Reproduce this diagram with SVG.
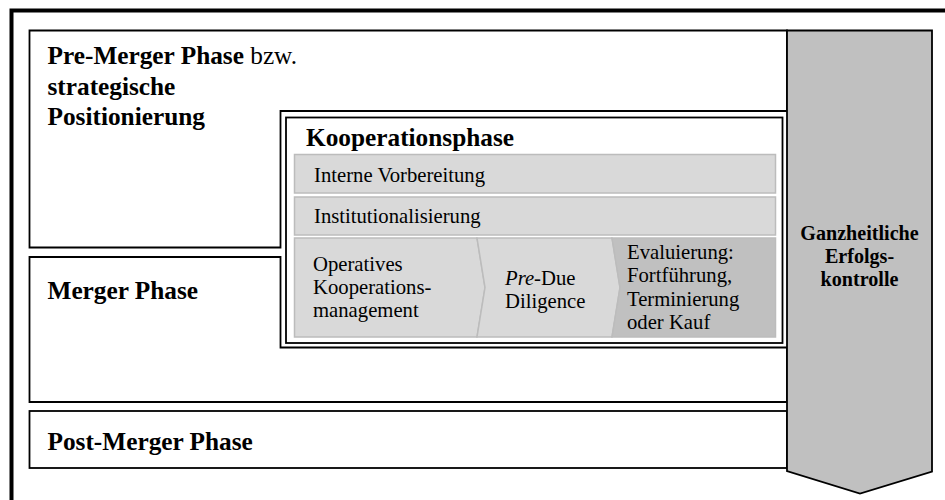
<svg xmlns="http://www.w3.org/2000/svg" width="945" height="500" viewBox="0 0 945 500">
<style>
.box{fill:#fff;stroke:#000;stroke-width:1.8;stroke-linejoin:miter}
.bar{fill:#d9d9d9;stroke:#bcbcbc;stroke-width:1.5}
.dark{fill:#c0c0c0;stroke:#bcbcbc;stroke-width:1.5}
.h{font-family:"Liberation Serif","Times New Roman",serif;font-weight:bold;font-size:25.3px;fill:#000}
.t{font-family:"Liberation Serif","Times New Roman",serif;font-size:20.7px;fill:#000}
.g{font-family:"Liberation Serif","Times New Roman",serif;font-weight:bold;font-size:20.1px;fill:#000;text-anchor:middle}
</style>
<rect width="945" height="500" fill="#fff"/>
<g id="frame">
<rect x="11.5" y="10.5" width="960" height="520" fill="none" stroke="#000" stroke-width="4"/>
</g>
<g id="pre-merger">
<polygon class="box" points="29.5,30.5 787,30.5 787,111 280.5,111 280.5,247.5 29.5,247.5"/>
<text class="h" x="47.5" y="64">Pre-Merger Phase<tspan font-weight="normal"> bzw.</tspan></text>
<text class="h" x="47.5" y="94.5">strategische</text>
<text class="h" x="47.5" y="125">Positionierung</text>
</g>
<g id="merger">
<polygon class="box" points="29.5,257 280.5,257 280.5,347.5 787,347.5 787,402 29.5,402"/>
<text class="h" x="47.5" y="299">Merger Phase</text>
</g>
<g id="post-merger">
<rect class="box" x="29.5" y="411" width="757.5" height="57"/>
<text class="h" x="47.5" y="450">Post-Merger Phase</text>
</g>
<g id="kooperationsphase">
<rect class="box" x="286" y="117.5" width="496.5" height="225.5"/>
<text class="h" x="306" y="146">Kooperationsphase</text>
</g>
<g id="interne-vorbereitung">
<rect class="bar" x="294.5" y="154.5" width="481" height="38.5"/>
<text class="t" x="314" y="182">Interne Vorbereitung</text>
</g>
<g id="institutionalisierung">
<rect class="bar" x="294.5" y="197" width="481" height="38"/>
<text class="t" x="314" y="223">Institutionalisierung</text>
</g>
<g id="operatives-management">
<polygon class="bar" points="294.5,238 477,238 485,287.5 477,337 294.5,337"/>
<text class="t" x="313" y="270.7">Operatives</text>
<text class="t" x="313" y="294">Kooperations-</text>
<text class="t" x="313" y="317">management</text>
</g>
<g id="pre-due-diligence">
<polygon class="bar" points="477,238 612,238 620,287.5 612,337 477,337 485,287.5"/>
<text class="t" x="505" y="285"><tspan font-style="italic">Pre</tspan>-Due</text>
<text class="t" x="505" y="308">Diligence</text>
</g>
<g id="evaluierung">
<polygon class="dark" points="612,238 775.5,238 775.5,337 612,337 620,287.5"/>
<text class="t" x="627" y="258.5">Evaluierung:</text>
<text class="t" x="627" y="282">Fortführung,</text>
<text class="t" x="627" y="305.5">Terminierung</text>
<text class="t" x="627" y="329">oder Kauf</text>
</g>
<g id="erfolgskontrolle">
<polygon points="787,30.5 932,30.5 932,471.5 860,493.5 787,471" fill="#c0c0c0" stroke="#000" stroke-width="1.8" stroke-linejoin="miter"/>
<text class="g" x="859.5" y="240">Ganzheitliche</text>
<text class="g" x="859.5" y="263">Erfolgs-</text>
<text class="g" x="859.5" y="286">kontrolle</text>
</g>
<g id="connectors"/>
</svg>
